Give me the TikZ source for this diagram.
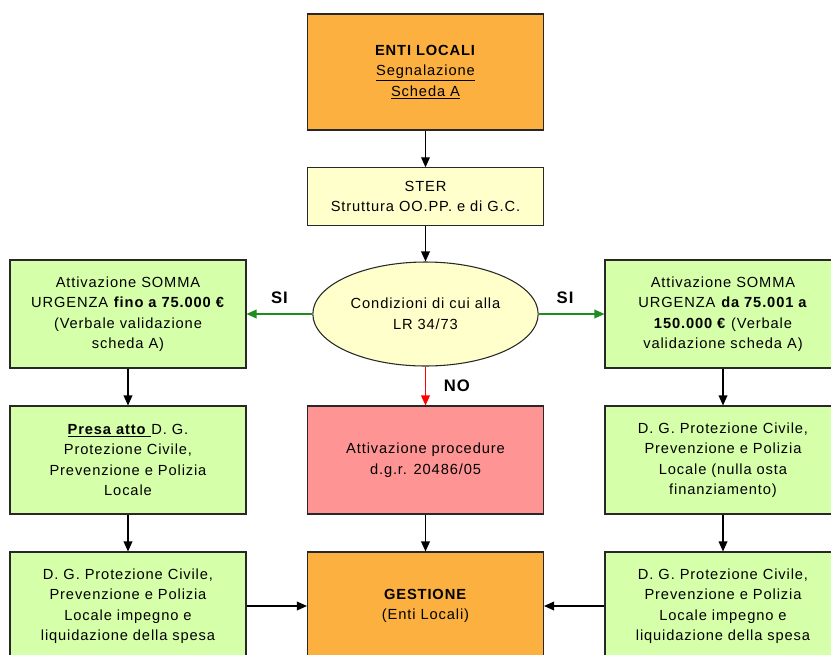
\documentclass[tikz,border=0pt]{standalone}
\usepackage		 {fontspec}
\setmainfont{Liberation Sans}[LetterSpace=6]
\usepackage		 {xcolor   }
\usepackage		 {tikz	  }
\usetikzlibrary{shapes,calc,arrows.meta}
\definecolor{arancio}{RGB}{251,176,64}
\definecolor{giallo}{RGB}{255,255,204}
\definecolor{verde}{RGB}{214,255,170}
\definecolor{rosso}{RGB}{255,148,148}
\definecolor{bordo}{RGB}{40,40,40}
\definecolor{freccia}{RGB}{30,140,30}
\begin{document}
\begin{tikzpicture}[x=0.75pt,y=-0.75pt]
  \tikzset{
  b/.style={draw=bordo,line width=0.8pt,align=center,font=\fontsize{11}{15.4}\selectfont,
    minimum width=177pt,minimum height=81pt,inner sep=2pt},
  e/.style={b,ellipse,fill=giallo,minimum width=169pt,minimum height=78pt},
  a/.style={line width=1pt,-{Triangle[width=6.5pt,length=7.5pt]}},
  t/.style={font=\fontsize{12.5}{14}\selectfont\bfseries},
  }
  \useasboundingbox (0,0) rectangle (831,654);
  % the boxes
  \node[b,fill=arancio,minimum height=87pt] (enti) at (425.5, 72) {\textbf{ENTI LOCALI}\\\underline{Segnalazione}\\\underline{Scheda A}};
  \node[b,fill=giallo,minimum height=43pt] (ster) at (425.5, 196.5) {STER\\Struttura OO.PP. e di G.C.};
  \node[e] (cond) at (425.5, 314) {Condizioni di cui alla\\LR 34/73};

  \node[b,fill=verde] (l1) at (128, 314) {Attivazione SOMMA\\URGENZA \textbf{fino a 75.000 €}\\(Verbale validazione\\scheda A)};
  \node[b,fill=verde] (l2) at (128, 460) {\underline{\textbf{Presa atto }}D. G.\\Protezione Civile,\\Prevenzione e Polizia\\Locale};
  \node[b,fill=verde] (l3) at (128, 606) {D. G. Protezione Civile,\\Prevenzione e Polizia\\Locale impegno e\\liquidazione della spesa};

  \node[b,fill=rosso] (proc) at (425.5, 460) {Attivazione procedure\\d.g.r. 20486/05};
  \node[b,fill=arancio] (gest) at (425.5, 606) {\textbf{GESTIONE}\\(Enti Locali)};

  \node[b,fill=verde] (r1) at (723, 314) {Attivazione SOMMA\\URGENZA \textbf{da 75.001 a}\\\textbf{150.000 €} (Verbale\\validazione scheda A)};
  \node[b,fill=verde] (r2) at (723, 460) {D. G. Protezione Civile,\\Prevenzione e Polizia\\Locale (nulla osta\\finanziamento)};
  \node[b,fill=verde] (r3) at (723, 606) {D. G. Protezione Civile,\\Prevenzione e Polizia\\Locale impegno e\\liquidazione della spesa};

  % the connection between the boxes
  \draw[a] (enti) -- (ster);
  \draw[a] (ster) -- (cond);
  \draw[a,freccia] (cond) -- (l1) node [pos=0.5, above=4pt, black, t] {SI};
  \draw[a,freccia] (cond) -- (r1) node [pos=0.4, above=4pt, black, t] {SI};
  \draw[a,red] (cond) -- (proc) node [midway, right=10pt, black, t] {NO};
  \draw[a] (l1) -- (l2);
  \draw[a] (l2) -- (l3);
  \draw[a] (r1) -- (r2);
  \draw[a] (r2) -- (r3);
  \draw[a] (proc) -- (gest);
  \draw[a] (l3) -- (gest);
  \draw[a] (r3) -- (gest);
\end{tikzpicture}
\end{document}
